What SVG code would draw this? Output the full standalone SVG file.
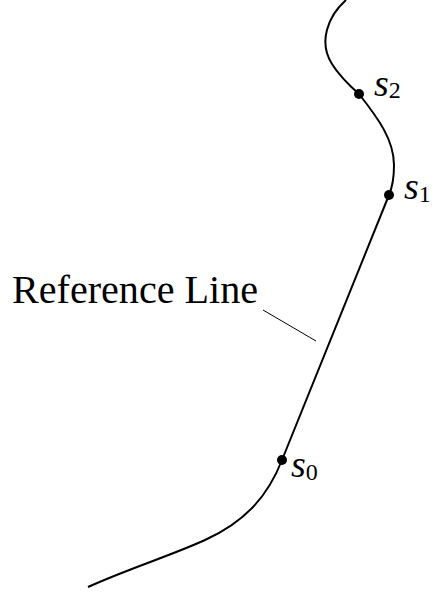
<svg xmlns="http://www.w3.org/2000/svg" width="435" height="596" viewBox="0 0 435 596">
<style>
.curve{fill:none;stroke:#000;stroke-width:2}
.lead{fill:none;stroke:#000;stroke-width:1}
.dot{fill:#000}
.lbl{fill:#000}
.it{font-style:italic;font-size:38px}
.sub{font-size:24px}
</style>
<rect width="435" height="596" fill="#fff"/>
<g id="connectors">
<path id="reference-line" class="curve" d="M346,0 C328,16 318,42 332,64 C340,77 350,86 359,94 C378,118 394,140 394,165 C394,178 392,188 389,195 L282,460 C268,496 245,522 205,540 C170,556 130,568 88,587"/>
<line class="lead" x1="263" y1="310" x2="316" y2="341"/>
</g>
<g id="label-reference"><text class="lbl" font-family="Liberation Serif, serif" x="12" y="303" font-size="39" textLength="246" lengthAdjust="spacingAndGlyphs">Reference Line</text></g>
<g id="s2"><circle class="dot" cx="359" cy="94" r="5"/><text class="lbl" font-family="Liberation Serif, serif" x="374" y="96"><tspan class="it">s</tspan><tspan class="sub" dy="2">2</tspan></text></g>
<g id="s1"><circle class="dot" cx="389" cy="195" r="5"/><text class="lbl" font-family="Liberation Serif, serif" x="404" y="199"><tspan class="it">s</tspan><tspan class="sub" dy="3">1</tspan></text></g>
<g id="s0"><circle class="dot" cx="282" cy="460" r="5"/><text class="lbl" font-family="Liberation Serif, serif" x="291" y="477"><tspan class="it">s</tspan><tspan class="sub" dy="3">0</tspan></text></g>
</svg>
